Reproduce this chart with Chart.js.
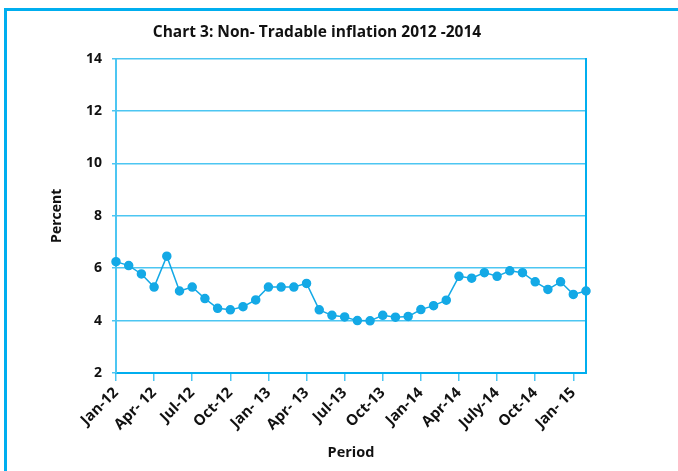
<!DOCTYPE html>
<html>
<head>
<meta charset="utf-8">
<script src="https://cdn.jsdelivr.net/npm/chart.js"></script>
<style>
    body { margin: 0; background: #fff; width: 678px; height: 471px; overflow: hidden; }
    #frame {
        position: absolute; left: 4px; top: 8px; width: 700px; height: 500px;
        border-left: 3px solid #00aeef; border-top: 3px solid #00aeef;
    }
    #wrap { position: absolute; left: 7px; top: 11px; width: 620px; height: 460px; }
</style>
</head>
<body>
<div id="frame"></div>
<div id="wrap"><canvas id="myChart"></canvas></div>
<script>
// monthly categories Jan-12 .. Feb-15
var months = ['Jan-12', 'Feb-12', 'Mar-12', 'Apr-12', 'May-12', 'Jun-12', 'Jul-12', 'Aug-12', 'Sep-12', 'Oct-12', 'Nov-12', 'Dec-12',
    'Jan-13', 'Feb-13', 'Mar-13', 'Apr-13', 'May-13', 'Jun-13', 'Jul-13', 'Aug-13', 'Sep-13', 'Oct-13', 'Nov-13', 'Dec-13',
    'Jan-14', 'Feb-14', 'Mar-14', 'Apr-14', 'May-14', 'Jun-14', 'Jul-14', 'Aug-14', 'Sep-14', 'Oct-14', 'Nov-14', 'Dec-14',
    'Jan-15', 'Feb-15'];

// labels shown on the axis, one every quarter
var tickLabels = ['Jan-12', 'Apr- 12', 'Jul-12', 'Oct-12', 'Jan- 13', 'Apr- 13', 'Jul-13', 'Oct-13',
    'Jan-14', 'Apr-14', 'July-14', 'Oct-14', 'Jan- 15'];

var nonTradable = [6.25, 6.1, 5.78, 5.28, 6.46, 5.13, 5.28, 4.84, 4.47, 4.41, 4.53, 4.79,
    5.28, 5.28, 5.28, 5.42, 4.41, 4.2, 4.14, 4.0, 3.99, 4.2, 4.13, 4.16,
    4.42, 4.57, 4.78, 5.69, 5.62, 5.83, 5.69, 5.9, 5.83, 5.48, 5.19, 5.48,
    5.0, 5.13];

var yTicks = [2, 4, 6, 8, 10, 12, 14];

var blue = '#00aeef';
var gridBlue = '#4cc6f2';
var textFont = "'Open Sans', sans-serif";

var myChart = new Chart("myChart", {
    type: "line",
    data: {
        labels: months,
        datasets: [{
            data: nonTradable,
            borderColor: '#14a9e6',
            backgroundColor: '#14a9e6',
            borderWidth: 1.5,
            pointRadius: 4,
            pointHoverRadius: 4,
            tension: 0
        }]
    },
    options: {
        responsive: true,
        maintainAspectRatio: false,
        animation: false,
        layout: { padding: 0 },
        plugins: {
            legend: { display: false },
            tooltip: { enabled: false },
            title: {
                display: true,
                text: "Chart 3: Non- Tradable inflation 2012 -2014",
                color: '#111',
                font: { family: textFont, size: 15.5, weight: 'bold' },
                padding: { top: 12, bottom: 17 }
            }
        },
        scales: {
            x: {
                offset: false,
                grid: {
                    drawOnChartArea: false,
                    drawTicks: true,
                    tickLength: 8,
                    color: gridBlue,
                    lineWidth: 1.5
                },
                border: { color: blue, width: 2 },
                ticks: {
                    autoSkip: false,
                    maxRotation: 45,
                    minRotation: 45,
                    color: '#111',
                    font: { family: textFont, size: 15, weight: 'bold' },
                    padding: 3,
                    callback: function (val, index) {
                        if (index % 3 === 0) return tickLabels[index / 3];
                        return null;
                    }
                },
                title: {
                    display: true,
                    text: 'Period',
                    color: '#111',
                    font: { family: textFont, size: 14.5, weight: 'bold' },
                    padding: { top: 0, bottom: 9 }
                },
                afterFit: function (s) { s.height = 98; }
            },
            y: {
                min: 2,
                max: 14,
                afterBuildTicks: function (s) {
                    s.ticks = yTicks.map(function (v) { return { value: v }; });
                },
                grid: {
                    color: gridBlue,
                    lineWidth: 1.5,
                    tickLength: 4
                },
                border: { color: gridBlue, width: 2 },
                ticks: {
                    color: '#111',
                    font: { family: textFont, size: 14, weight: 'bold' },
                    padding: 10
                },
                title: {
                    display: true,
                    text: 'Percent',
                    color: '#111',
                    font: { family: textFont, size: 14, weight: 'bold' },
                    padding: { top: 42, bottom: 10 }
                },
                afterFit: function (s) { s.width = 109; }
            },
            y2: {
                position: 'right',
                min: 2,
                max: 14,
                grid: { drawOnChartArea: false, drawTicks: false },
                border: { color: blue, width: 2 },
                ticks: { display: false },
                afterFit: function (s) { s.width = 41; }
            }
        }
    }
});
</script>
</body>
</html>
